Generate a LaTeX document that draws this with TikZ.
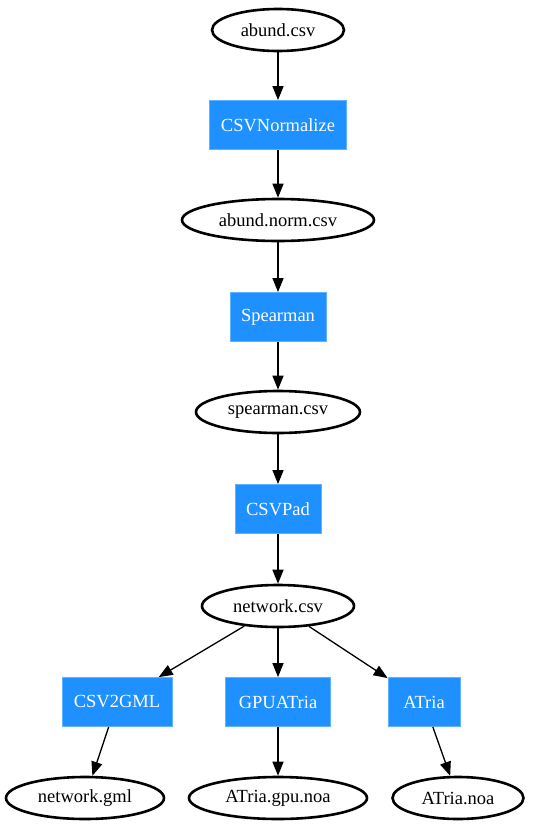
\documentclass[tikz,border=0pt]{standalone}
\usepackage{fontspec}
\setmainfont{Liberation Serif}
\usetikzlibrary{arrows.meta,shapes.geometric}
\definecolor{dblue}{HTML}{1E90FF}
\tikzset{
  file/.style={ellipse, draw=black, line width=2.6pt, minimum height=42pt, inner sep=0pt, font=\fontsize{18.5}{22}\selectfont},
  tool/.style={rectangle, fill=dblue, draw=dblue!70!white, line width=0.8pt, minimum height=49pt, inner sep=0pt, text=white, font=\fontsize{18.5}{22}\selectfont},
  edge/.style={line width=1.3pt, -{Triangle[length=14pt,width=11pt]}}
}
\begin{document}
\begin{tikzpicture}[x=1pt,y=1pt]
\useasboundingbox (0,0) rectangle (533,-827);
\node[file, minimum width=132pt] (abund) at (278,-30) {abund.csv};
\node[tool, minimum width=137pt] (norm) at (278,-125) {CSVNormalize};
\node[file, minimum width=192pt] (abnorm) at (278,-220) {abund.norm.csv};
\node[tool, minimum width=96pt] (spear) at (278,-317) {Spearman};
\node[file, minimum width=164pt] (spcsv) at (278,-412) {spearman.csv};
\node[tool, minimum width=86pt] (pad) at (278,-509) {CSVPad};
\node[file, minimum width=152pt] (net) at (278,-606) {network.csv};
\node[tool, minimum width=110pt] (gml) at (117,-702) {CSV2GML};
\node[tool, minimum width=105pt] (gpu) at (278,-702) {GPUATria};
\node[tool, minimum width=72pt] (atria) at (424,-702) {ATria};
\node[file, minimum width=158pt] (netgml) at (85,-798) {network.gml};
\node[file, minimum width=178pt] (gpunoa) at (278,-798) {ATria.gpu.noa};
\node[file, minimum width=131pt] (atnoa) at (458,-798) {ATria.noa};
\draw[edge] (abund) -- (norm);
\draw[edge] (norm) -- (abnorm);
\draw[edge] (abnorm) -- (spear);
\draw[edge] (spear) -- (spcsv);
\draw[edge] (spcsv) -- (pad);
\draw[edge] (pad) -- (net);
\draw[edge] (net) -- (gml);
\draw[edge] (net) -- (gpu);
\draw[edge] (net) -- (atria);
\draw[edge] (gml) -- (netgml);
\draw[edge] (gpu) -- (gpunoa);
\draw[edge] (atria) -- (atnoa);
\end{tikzpicture}
\end{document}
